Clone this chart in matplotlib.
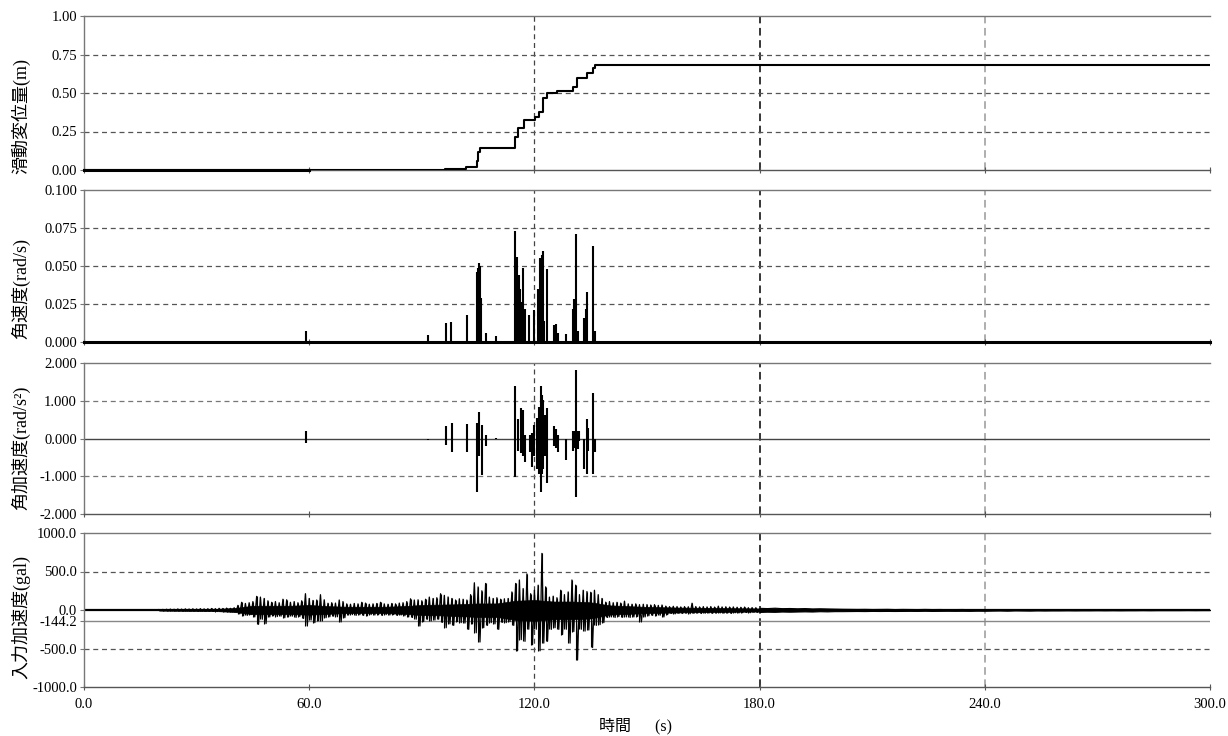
import numpy as np
import matplotlib
matplotlib.use("Agg")
import matplotlib.pyplot as plt

plt.rcParams['font.family'] = ['Liberation Serif', 'Noto Sans CJK JP']
plt.rcParams['axes.unicode_minus'] = False

# 滑動変位量 (step function, value holds until next time)
disp_t = [0, 96.2, 97.5, 101.9, 104.6, 105.0, 105.5, 114.8, 115.7, 117.1, 120.2,
          121.1, 122.4, 123.3, 125.9, 130.2, 131.3, 133.9, 135.5, 136.1, 300]
disp_v = [0, 0.005, 0.008, 0.02, 0.06, 0.12, 0.14, 0.216, 0.27, 0.325, 0.346,
          0.379, 0.465, 0.502, 0.515, 0.541, 0.595, 0.628, 0.66, 0.682, 0.682]

# 角速度 spikes
vel_t = [59.1, 91.7, 96.4, 97.9, 102.1, 104.6, 104.9, 105.2, 105.5, 105.9, 107.1,
         109.7, 114.8, 115.3, 115.8, 116.2, 116.6, 117.05, 117.5, 118.65, 119.9,
         121.05, 121.5, 121.94, 122.2, 122.56, 123.27, 125.22, 125.67, 126.2,
         128.42, 130.2, 130.55, 131.08, 131.7, 133.22, 133.75, 134.1, 135.7, 136.14]
vel_v = [0.007, 0.0048, 0.0124, 0.013, 0.018, 0.046, 0.049, 0.052, 0.050, 0.029, 0.006,
         0.004, 0.073, 0.056, 0.044, 0.035, 0.026, 0.049, 0.022, 0.018, 0.021,
         0.035, 0.055, 0.057, 0.060, 0.014, 0.048, 0.0115, 0.012, 0.006,
         0.005, 0.022, 0.028, 0.071, 0.007, 0.016, 0.022, 0.033, 0.063, 0.007]

# 角加速度 spikes (max / min)
acc_t = [59.1, 91.7, 96.4, 98.0, 102.1, 104.6, 105.3, 106.0, 107.1, 109.7, 114.9,
         115.7, 116.3, 116.9, 117.4, 118.7, 119.3, 119.9, 120.8, 121.3, 121.7,
         122.0, 122.4, 122.8, 123.3, 125.2, 125.7, 126.2, 128.4, 130.2, 130.6,
         131.1, 131.5, 131.9, 133.2, 133.9, 134.4, 135.7, 136.2]
acc_hi = [0.21, 0.0, 0.32, 0.42, 0.38, 0.41, 0.69, 0.36, 0.10, 0.02, 1.38,
          0.52, 0.81, 0.75, 0.10, 0.10, 0.15, 0.35, 0.54, 0.84, 1.38,
          1.14, 1.01, 0.62, 0.81, 0.32, 0.26, 0.10, 0.0, 0.21, 0.19,
          1.82, 0.21, 0.21, 0.0, 0.52, 0.29, 1.21, 0.0]
acc_lo = [-0.11, -0.04, -0.17, -0.35, -0.35, -1.41, -0.46, -0.98, -0.20, -0.01, -1.02,
          -0.33, -0.39, -0.46, -0.63, -0.37, -0.76, -0.46, -0.81, -0.94, -1.41,
          -0.94, -0.81, -0.46, -1.19, -0.20, -0.24, -0.37, -0.57, -0.33, -0.24,
          -1.56, -0.29, -0.07, -0.81, -0.94, -0.33, -0.95, -0.35]

# 入力加速度: per-second peak / trough, 20-179 s
inp_t1 = np.arange(20, 180, 1.0)
inp_hi1 = [5, 8, 10, 12, 10, 14, 12, 15, 13, 16, 14, 18, 15, 17, 20, 18, 22, 20, 25, 22, 30,
           60, 100, 85, 95, 110, 177, 168, 150, 120, 100,
           110, 95, 140, 133, 100, 110, 95, 120, 212, 150,
           124, 130, 199, 133, 88, 95, 90, 130, 110, 80,
           75, 85, 80, 100, 90, 75, 80, 85, 100, 80,
           75, 85, 80, 90, 95, 110, 146, 130, 133, 120,
           140, 168, 150, 160, 212, 190, 170, 150, 130, 146,
           140, 130, 200, 354, 300, 250, 345, 168, 150, 160,
           140, 146, 150, 235, 345, 390, 279, 469, 212, 257,
           323, 735, 301, 168, 180, 160, 257, 200, 235, 390,
           323, 200, 257, 240, 230, 257, 200, 150, 102, 110,
           95, 100, 90, 115, 80, 75, 80, 70, 75, 71,
           65, 70, 60, 65, 50, 44, 48, 45, 40, 44,
           42, 88, 45, 40, 44, 40, 45, 38, 50, 40,
           42, 38, 40, 36, 35, 38, 30, 32, 30]
inp_lo1 = [-5, -8, -10, -10, -12, -12, -14, -12, -15, -14, -16, -15, -18, -16, -18, -20, -18, -22, -20, -25, -28,
           -50, -75, -70, -60, -90, -186, -120, -177, -90, -75,
           -85, -80, -100, -90, -80, -96, -85, -110, -208, -130,
           -164, -140, -142, -100, -88, -80, -88, -155, -100, -65,
           -60, -70, -62, -70, -75, -60, -65, -62, -70, -60,
           -65, -60, -70, -65, -75, -90, -97, -120, -208, -150,
           -120, -142, -130, -120, -160, -230, -180, -200, -150, -164,
           -170, -252, -180, -296, -416, -230, -200, -164, -180, -252,
           -160, -164, -150, -200, -530, -385, -407, -250, -451, -250,
           -530, -430, -407, -252, -230, -252, -319, -250, -430, -280,
           -650, -250, -274, -260, -487, -200, -190, -164, -97, -90,
           -97, -85, -95, -90, -97, -90, -85, -155, -90, -75,
           -70, -75, -68, -90, -60, -44, -50, -44, -45, -40,
           -48, -44, -40, -45, -42, -40, -44, -40, -38, -42,
           -40, -44, -36, -38, -35, -32, -35, -30, -30]
# dense core of the trace, every 5 s
core_t = np.arange(20, 181, 5.0)
core_hi = [8, 10, 12, 14, 25, 55, 55, 55, 65, 50, 42, 42, 42, 50, 65, 70, 75,
           85, 85, 120, 130, 110, 110, 100, 60, 50, 40, 35, 30, 28, 25, 22, 20]
core_lo = [-8, -10, -12, -14, -25, -55, -55, -55, -60, -50, -40, -40, -40, -50, -65, -70, -80,
           -90, -90, -130, -140, -120, -120, -110, -60, -50, -40, -35, -30, -28, -25, -22, -20]
# 180-300 s, every 2 s
inp_t2 = np.arange(180, 301, 2.0)
inp_hi2 = [28, 25, 30, 24, 26, 22, 25, 20, 22, 20, 18,
           16, 15, 14, 15, 13, 14, 15, 12, 14, 13, 12, 14, 12, 13, 11, 12, 13, 10, 12, 11,
           9, 8, 10, 7, 8, 9, 7, 8, 6, 8, 7, 6, 7, 6, 5, 6, 5, 6, 5, 4, 5, 4, 5, 4, 3, 4, 3, 4, 3, 3]
inp_lo2 = [-25, -22, -24, -20, -22, -20, -18, -20, -16, -18, -15,
           -15, -14, -13, -14, -12, -13, -12, -13, -12, -11, -12, -10, -12, -11, -10, -11, -10, -11, -9, -10,
           -8, -7, -9, -6, -7, -8, -6, -7, -6, -6, -5, -6, -5, -5, -4, -5, -4, -5, -4, -4, -3, -4, -3, -3,
           -3, -3, -2, -3, -2, -2]


def zigzag(t, hi, lo, step):
    tt = np.empty(2 * len(t))
    vv = np.empty(2 * len(t))
    tt[0::2] = t
    tt[1::2] = np.asarray(t) + step / 2
    vv[0::2] = hi
    vv[1::2] = lo
    return tt, vv


z1t, z1v = zigzag(inp_t1, inp_hi1, inp_lo1, 1.0)

fig = plt.figure(figsize=(12.28, 7.36), dpi=100)
L, W = 84 / 1228, 1126 / 1228
rows = [(16, 170), (190, 342), (363, 514), (533, 687)]
axes = [fig.add_axes([L, 1 - b / 736, W, (b - t) / 736]) for t, b in rows]

ylabels = ['滑動変位量(m)', '角速度(rad/s)', '角加速度(rad/s²)', '入力加速度(gal)']
label_y = [0.35, 0.355, 0.437, 0.455]
dash = (0, (4, 3))

for ax, lab, ly in zip(axes, ylabels, label_y):
    ax.set_xlim(0, 300)
    ax.set_xticks([0, 60, 120, 180, 240, 300])
    ax.tick_params(axis='x', direction='inout', length=4, color='#555555', labelbottom=False)
    ax.tick_params(axis='y', direction='out', length=3, color='#777777', labelsize=10.5, pad=2)
    for s in ['top', 'left', 'bottom']:
        ax.spines[s].set_color('#777777')
        ax.spines[s].set_linewidth(1.0)
    ax.spines['bottom'].set_color('#555555')
    ax.spines['right'].set_visible(False)
    ax.axvline(120, color='#444444', lw=0.9, ls=dash, zorder=1)
    ax.axvline(180, color='#000000', lw=1.1, ls=(0, (5, 3)), zorder=1)
    ax.axvline(240, color='#999999', lw=1.1, ls=(0, (5, 3)), zorder=1)
    ax.set_ylabel(lab, fontsize=13)
    ax.yaxis.set_label_coords(-0.048, ly)

# panel 1
ax = axes[0]
ax.set_ylim(0, 1.0)
ax.set_yticks([0, 0.25, 0.5, 0.75, 1.0])
ax.set_yticklabels(['0.00', '0.25', '0.50', '0.75', '1.00'])
for y in [0.25, 0.5, 0.75]:
    ax.axhline(y, color='#555555', lw=0.9, ls=dash, zorder=1)
ax.plot(disp_t, disp_v, drawstyle='steps-post', color='black', lw=1.5, zorder=3)
ax.plot([0, 60], [0, 0], color='black', lw=2.2, zorder=3, clip_on=False)

# panel 2
ax = axes[1]
ax.set_ylim(0, 0.1)
ax.set_yticks([0, 0.025, 0.05, 0.075, 0.1])
ax.set_yticklabels(['0.000', '0.025', '0.050', '0.075', '0.100'])
for y in [0.025, 0.05, 0.075]:
    ax.axhline(y, color='#555555', lw=0.9, ls=dash, zorder=1)
ax.plot([0, 300], [0, 0], color='black', lw=2.2, zorder=3, clip_on=False)
ax.vlines(vel_t, 0, vel_v, color='black', lw=1.5, zorder=3)

# panel 3
ax = axes[2]
ax.set_ylim(-2, 2)
ax.set_yticks([-2, -1, 0, 1, 2])
ax.set_yticklabels(['-2.000', '-1.000', '0.000', '1.000', '2.000'])
for y in [-1, 1]:
    ax.axhline(y, color='#777777', lw=0.9, ls=dash, zorder=1)
ax.axhline(0, color='#444444', lw=1.0, zorder=2)
ax.vlines(acc_t, acc_lo, acc_hi, color='black', lw=1.5, zorder=3)

# panel 4
ax = axes[3]
ax.set_ylim(-1000, 1000)
ax.set_yticks([-1000, -500, -144.2, 0, 500, 1000])
ax.set_yticklabels(['-1000.0', '-500.0', '-144.2', '0.0', '500.0', '1000.0'])
for y in [-500, 500]:
    ax.axhline(y, color='#555555', lw=0.9, ls=dash, zorder=1)
ax.axhline(-144.2, color='#888888', lw=1.0, zorder=2)
ax.axhline(0, color='black', lw=1.6, zorder=2)
ax.fill_between(core_t, core_lo, core_hi, color='black', lw=0.5, zorder=3)
ax.plot(z1t, z1v, color='black', lw=0.9, zorder=3)
ax.vlines(inp_t1, inp_lo1, inp_hi1, color='black', lw=0.8, zorder=3)
ax.fill_between(inp_t2, inp_lo2, inp_hi2, color='black', lw=0.8, zorder=3)
ax.tick_params(axis='x', labelbottom=True, labelsize=10.5, pad=6)
ax.set_xticklabels(['0.0', '60.0', '120.0', '180.0', '240.0', '300.0'])
ax.set_xlabel('時間\u3000  (s)', fontsize=11.5, labelpad=3)
ax.xaxis.set_label_coords(0.49, -0.2)

fig.savefig('out.png', dpi=100)
